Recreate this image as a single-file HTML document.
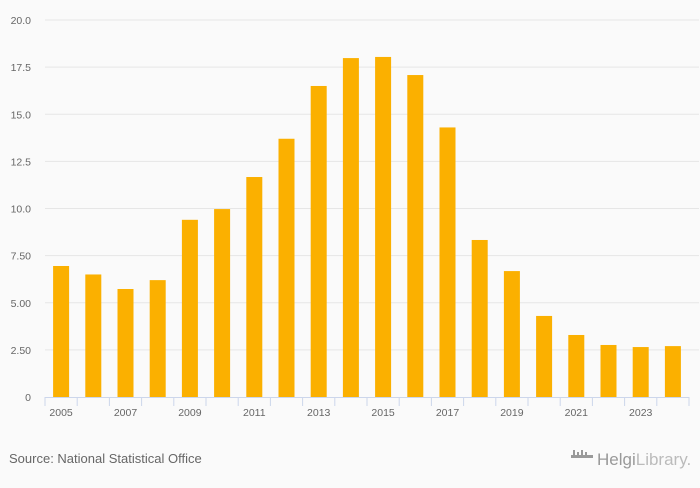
<!DOCTYPE html>
<html><head><meta charset="utf-8"><style>
body{margin:0;background:#fafafa;font-family:"Liberation Sans",sans-serif}
</style></head><body>
<svg id="c" width="700" height="483" xmlns="http://www.w3.org/2000/svg">
<rect width="700" height="483" fill="#fafafa"/>
<g id="grid"></g><g id="bars"></g><g id="xaxis"></g>
<text x="9" y="463" font-size="13" fill="#666">Source: National Statistical Office</text>
<g fill="#999">
<rect x="571" y="455" width="22" height="3"/><rect x="573" y="450" width="2" height="6"/><rect x="577" y="452" width="2" height="4"/><rect x="581" y="450" width="2" height="6"/><rect x="585" y="452" width="2" height="4"/>
<text x="597" y="465" font-size="17" fill="#999">Helgi<tspan fill="#bbb">Library.</tspan></text>
</g>
</svg>
<script>
const years=[2005,2006,2007,2008,2009,2010,2011,2012,2013,2014,2015,2016,2017,2018,2019,2020,2021,2022,2023,2024];
const values=[6.95,6.5,5.73,6.2,9.4,9.97,11.67,13.7,16.5,17.98,18.04,17.08,14.3,8.33,6.68,4.3,3.29,2.76,2.65,2.7];
const yTicks=[0,2.5,5,7.5,10,12.5,15,17.5,20];
const yTickLabels=["0","2.50","5.00","7.50","10.0","12.5","15.0","17.5","20.0"];
const NS="http://www.w3.org/2000/svg";
const x0=45,x1=689,y0=397,yTop=20,yMax=20;
const band=(x1-x0)/years.length;
const y=v=>y0-(v/yMax)*(y0-yTop);
const xc=i=>x0+band*(i+0.5);
function mk(t,a,p){const e=document.createElementNS(NS,t);for(const k in a)e.setAttribute(k,a[k]);p.appendChild(e);return e;}
const grid=document.getElementById('grid'),bars=document.getElementById('bars'),xa=document.getElementById('xaxis');
yTicks.forEach((t,i)=>{
  if(t>0){const l=mk('line',{x1:x0,x2:x1+10,y1:y(t),y2:y(t),stroke:'#e6e6e6','stroke-width':1},grid);
  
  }
  const tx=mk('text',{x:31,y:y(t)+4,'text-anchor':'end','font-size':10.5,fill:'#666'},grid);
  tx.textContent=yTickLabels[i];
  
  
});
values.forEach((v,i)=>{
  const r=mk('rect',{x:xc(i)-8,y:y(v),width:16,height:y0-y(v),fill:'#fbb000'},bars);
  
  
});
const ax=mk('line',{x1:x0,x2:x1,y1:y0+0.5,y2:y0+0.5,stroke:'#ccd6eb'},xa);


for(let i=0;i<=years.length;i++){
  const t=mk('line',{x1:x0+band*i,x2:x0+band*i,y1:y0,y2:y0+9,stroke:'#ccd6eb'},xa);
  
  
}
years.forEach((yr,i)=>{
  if(i%2)return;
  const t=mk('text',{x:xc(i),y:416,'text-anchor':'middle','font-size':10.5,fill:'#666'},xa);
  t.textContent=yr;
  
  
});
</script>
</body></html>
